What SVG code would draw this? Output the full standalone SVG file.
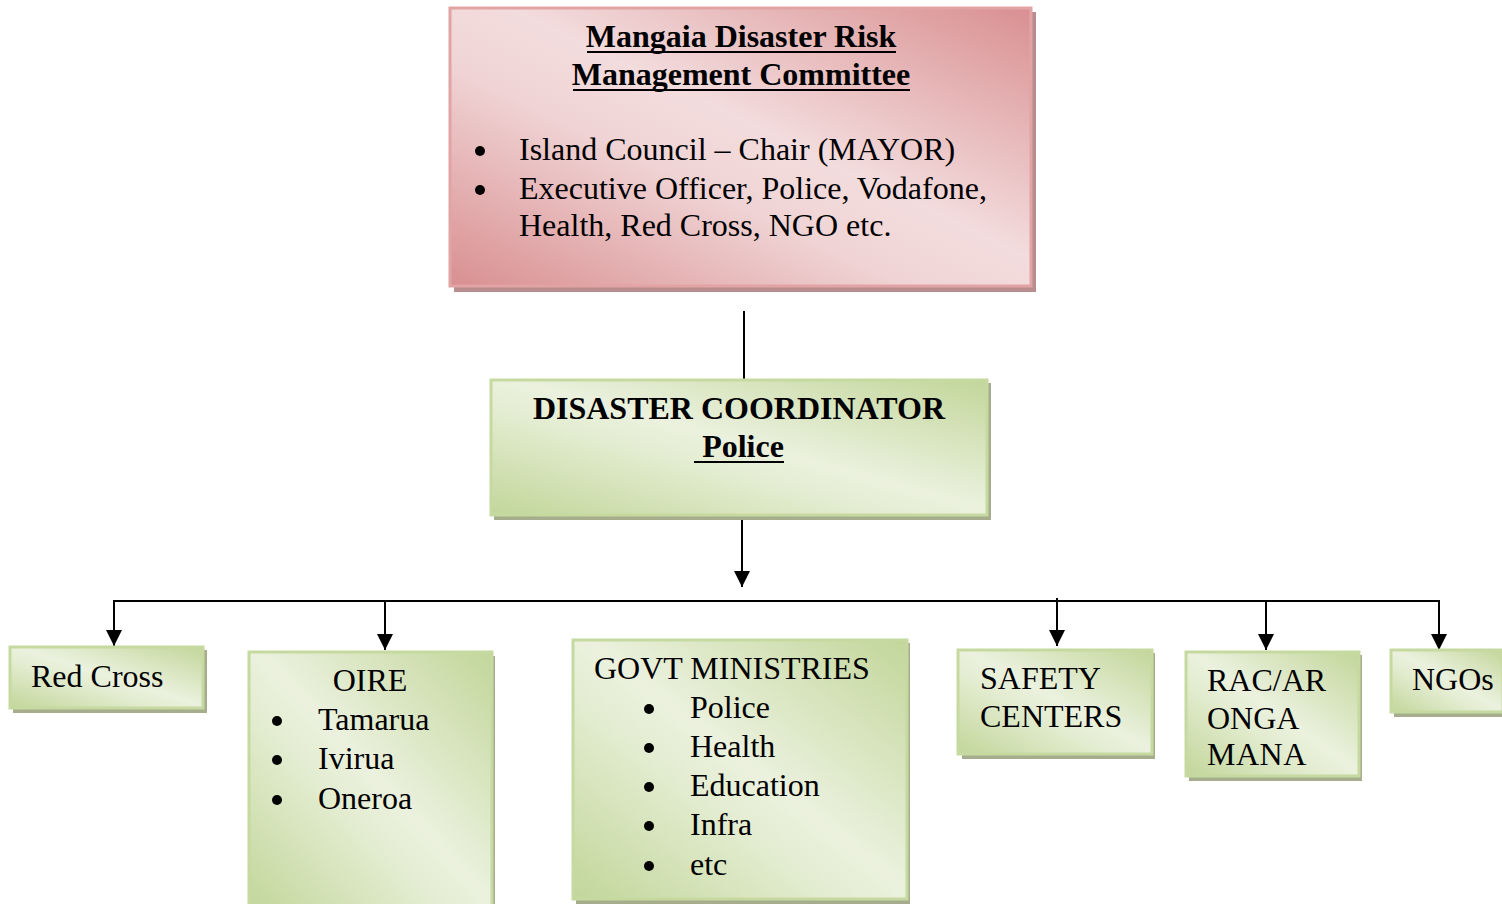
<svg xmlns="http://www.w3.org/2000/svg" width="1502" height="904" viewBox="0 0 1502 904">
<defs>
<linearGradient id="gPink" x1="1" y1="0" x2="0" y2="1">
<stop offset="0" stop-color="#d98f91"/>
<stop offset="0.45" stop-color="#f3dcdd"/>
<stop offset="0.6" stop-color="#f0d4d5"/>
<stop offset="1" stop-color="#d98f91"/>
</linearGradient>
<linearGradient id="gGreen" x1="1" y1="0" x2="0" y2="1">
<stop offset="0" stop-color="#c2d69a"/>
<stop offset="0.48" stop-color="#ebf1de"/>
<stop offset="0.6" stop-color="#e4edd2"/>
<stop offset="1" stop-color="#c2d69a"/>
</linearGradient>
<marker id="arr" viewBox="0 0 10 10" refX="10" refY="5" markerWidth="16" markerHeight="16" markerUnits="userSpaceOnUse" orient="auto">
<path d="M0,0 L10,5 L0,10 z" fill="#000"/>
</marker>
<style>
.t{font-family:"Liberation Serif","Times New Roman",serif;font-size:32px;fill:#000}
.b{font-weight:bold}
.sp{fill:#b98d8e}
.pk{fill:url(#gPink);stroke:#e2a3a4;stroke-width:3}
.sg{fill:#a5ad8c}
.gr{fill:url(#gGreen);stroke:#c6d9a0;stroke-width:3}
.ln{stroke:#000;stroke-width:2;fill:none}
.ul{stroke:#000;stroke-width:2}
</style>
</defs>

<g id="connectors">
<line class="ln" x1="744" y1="311" x2="744" y2="379"/>
<line class="ln" x1="742" y1="516" x2="742" y2="587" marker-end="url(#arr)"/>
<polyline class="ln" points="114,601 1439,601 1439,650" marker-end="url(#arr)"/>
<line class="ln" x1="114" y1="600" x2="114" y2="646" marker-end="url(#arr)"/>
<line class="ln" x1="385" y1="601" x2="385" y2="650" marker-end="url(#arr)"/>
<line class="ln" x1="1057" y1="598" x2="1057" y2="646" marker-end="url(#arr)"/>
<line class="ln" x1="1266" y1="601" x2="1266" y2="650" marker-end="url(#arr)"/>
</g>

<g id="committee">
<rect class="sp" x="454" y="12" width="582" height="280"/>
<rect class="pk" x="450" y="8" width="581" height="278"/>
<text class="t b" x="741" y="47" text-anchor="middle">Mangaia Disaster Risk</text>
<line class="ul" x1="587" y1="52" x2="896" y2="52"/>
<text class="t b" x="741" y="85" text-anchor="middle">Management Committee</text>
<line class="ul" x1="573" y1="90" x2="910" y2="90"/>
<circle cx="480" cy="151" r="5"/>
<text class="t" x="519" y="160">Island Council – Chair (MAYOR)</text>
<circle cx="480" cy="190" r="5"/>
<text class="t" x="519" y="199">Executive Officer, Police, Vodafone,</text>
<text class="t" x="519" y="236">Health, Red Cross, NGO etc.</text>
</g>

<g id="coordinator">
<rect class="sg" x="494" y="383" width="497" height="137"/>
<rect class="gr" x="491" y="380" width="496" height="135"/>
<text class="t b" x="739" y="419" text-anchor="middle">DISASTER COORDINATOR</text>
<text class="t b" x="743" y="457" text-anchor="middle">Police</text>
<line class="ul" x1="694" y1="462" x2="784" y2="462"/>
</g>

<g id="redcross">
<rect class="sg" x="13" y="650" width="194" height="63"/>
<rect class="gr" x="10" y="647" width="193" height="61"/>
<text class="t" x="31" y="687">Red Cross</text>
</g>

<g id="oire">
<rect class="sg" x="252" y="656" width="243" height="260"/>
<rect class="gr" x="249" y="652" width="243" height="260"/>
<text class="t" x="370" y="691" text-anchor="middle">OIRE</text>
<circle cx="277" cy="721" r="5"/>
<text class="t" x="318" y="730">Tamarua</text>
<circle cx="277" cy="760" r="5"/>
<text class="t" x="318" y="769">Ivirua</text>
<circle cx="277" cy="800" r="5"/>
<text class="t" x="318" y="809">Oneroa</text>
</g>

<g id="govt">
<rect class="sg" x="576" y="643" width="334" height="261"/>
<rect class="gr" x="573" y="640" width="334" height="259"/>
<text class="t" x="594" y="679">GOVT MINISTRIES</text>
<circle cx="649" cy="709" r="5"/>
<text class="t" x="690" y="718">Police</text>
<circle cx="649" cy="748" r="5"/>
<text class="t" x="690" y="757">Health</text>
<circle cx="649" cy="787" r="5"/>
<text class="t" x="690" y="796">Education</text>
<circle cx="649" cy="826" r="5"/>
<text class="t" x="690" y="835">Infra</text>
<circle cx="649" cy="866" r="5"/>
<text class="t" x="690" y="875">etc</text>
</g>

<g id="safety">
<rect class="sg" x="962" y="653" width="193" height="106"/>
<rect class="gr" x="958" y="650" width="194" height="104"/>
<text class="t" x="980" y="689">SAFETY</text>
<text class="t" x="980" y="727">CENTERS</text>
</g>

<g id="racar">
<rect class="sg" x="1189" y="655" width="173" height="126"/>
<rect class="gr" x="1186" y="652" width="173" height="124"/>
<text class="t" x="1207" y="691">RAC/AR</text>
<text class="t" x="1207" y="729">ONGA</text>
<text class="t" x="1207" y="765" letter-spacing="0.5">MANA</text>
</g>

<g id="ngos">
<rect class="sg" x="1394" y="653" width="110" height="64"/>
<rect class="gr" x="1391" y="650" width="112" height="62"/>
<text class="t" x="1412" y="690">NGOs</text>
</g>
</svg>
